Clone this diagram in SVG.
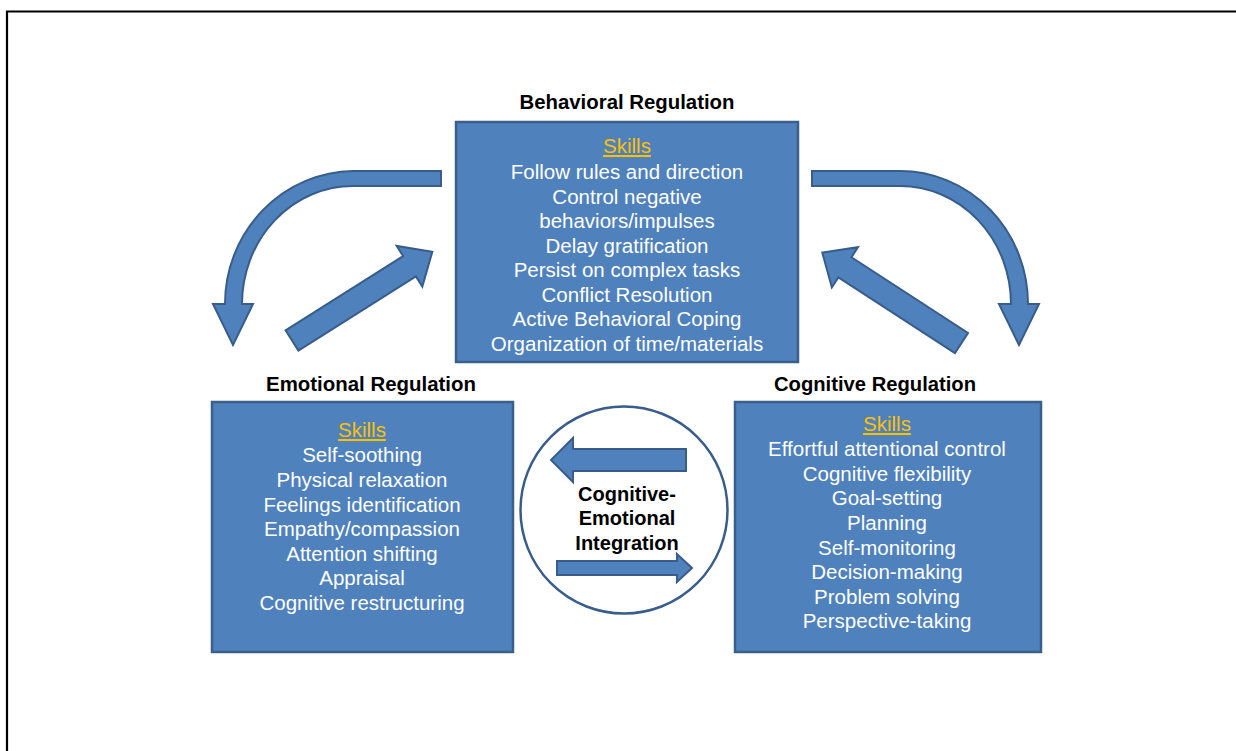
<svg xmlns="http://www.w3.org/2000/svg" width="1236" height="751" viewBox="0 0 1236 751">
<style>
.box{fill:#4F81BD;stroke:#3A5F8B;stroke-width:2.5}
.arr{fill:#4F81BD;stroke:#385D8A;stroke-width:2;stroke-linejoin:miter}
.t{font-family:"Liberation Sans",Arial,sans-serif;font-size:20.5px;fill:#FFFFFF;text-anchor:middle}
.sk{font-family:"Liberation Sans",Arial,sans-serif;font-size:20.5px;fill:#FFC000;text-anchor:middle;text-decoration:underline}
.h{font-family:"Liberation Sans",Arial,sans-serif;font-size:19.5px;font-weight:bold;fill:#000;text-anchor:middle}
.c{font-family:"Liberation Sans",Arial,sans-serif;font-size:20px;font-weight:bold;fill:#000;text-anchor:middle}
</style>
<rect width="1236" height="751" fill="#FFFFFF"/>
<path d="M7,760 L7,11.5 L1245,11.5" fill="none" stroke="#000" stroke-width="2.2"/>

<g id="connectors">
  <path class="arr" d="M441,171 L353,171 A130,133 0 0 0 225,304 L213,304 L233,345 L253,304 L242,304 A111,118 0 0 1 353,186 L441,186 Z"/>
  <path class="arr" d="M812,171 L900,171 A128,133 0 0 1 1028,304 L1039,304 L1019,345 L999,304 L1011,304 A111,118 0 0 0 900,186 L812,186 Z"/>
  <path class="arr" transform="translate(292,340.5) rotate(-32.3)" d="M0,-12 L139,-12 L139,-24 L166,0 L139,24 L139,12 L0,12 Z"/>
  <path class="arr" transform="translate(961.5,343) rotate(-147)" d="M0,-12 L139,-12 L139,-24 L166,0 L139,24 L139,12 L0,12 Z"/>
</g>

<g id="behavioral">
  <text class="h" x="627" y="108.5" textLength="215" lengthAdjust="spacingAndGlyphs">Behavioral Regulation</text>
  <rect class="box" x="456" y="122" width="342" height="240"/>
  <text class="sk" x="627" y="153">Skills</text>
  <text class="t" x="627" y="179">Follow rules and direction</text>
  <text class="t" x="627" y="203.5">Control negative</text>
  <text class="t" x="627" y="228">behaviors/impulses</text>
  <text class="t" x="627" y="252.5">Delay gratification</text>
  <text class="t" x="627" y="277">Persist on complex tasks</text>
  <text class="t" x="627" y="301.5">Conflict Resolution</text>
  <text class="t" x="627" y="326">Active Behavioral Coping</text>
  <text class="t" x="627" y="351">Organization of time/materials</text>
</g>

<g id="emotional">
  <text class="h" x="371" y="390.5" textLength="210" lengthAdjust="spacingAndGlyphs">Emotional Regulation</text>
  <rect class="box" x="212" y="402" width="301" height="250"/>
  <text class="sk" x="362" y="437">Skills</text>
  <text class="t" x="362" y="462">Self-soothing</text>
  <text class="t" x="362" y="487">Physical relaxation</text>
  <text class="t" x="362" y="512">Feelings identification</text>
  <text class="t" x="362" y="536">Empathy/compassion</text>
  <text class="t" x="362" y="561">Attention shifting</text>
  <text class="t" x="362" y="585">Appraisal</text>
  <text class="t" x="362" y="610">Cognitive restructuring</text>
</g>

<g id="cognitive">
  <text class="h" x="875" y="390.5" textLength="202" lengthAdjust="spacingAndGlyphs">Cognitive Regulation</text>
  <rect class="box" x="735" y="402" width="306" height="250"/>
  <text class="sk" x="887" y="431">Skills</text>
  <text class="t" x="887" y="456">Effortful attentional control</text>
  <text class="t" x="887" y="481">Cognitive flexibility</text>
  <text class="t" x="887" y="505">Goal-setting</text>
  <text class="t" x="887" y="530">Planning</text>
  <text class="t" x="887" y="555">Self-monitoring</text>
  <text class="t" x="887" y="579">Decision-making</text>
  <text class="t" x="887" y="604">Problem solving</text>
  <text class="t" x="887" y="628">Perspective-taking</text>
</g>

<g id="integration">
  <circle cx="624" cy="510" r="103.5" fill="#FFFFFF" stroke="#385D8A" stroke-width="2.5"/>
  <path class="arr" d="M686,449 L573,449 L573,438 L551,460 L573,482 L573,471 L686,471 Z"/>
  <path class="arr" d="M557,561 L677,561 L677,554 L692,568 L677,582 L677,575 L557,575 Z"/>
  <text class="c" x="627" y="500.5">Cognitive-</text>
  <text class="c" x="627" y="525">Emotional</text>
  <text class="c" x="627" y="549.5">Integration</text>
</g>
</svg>
